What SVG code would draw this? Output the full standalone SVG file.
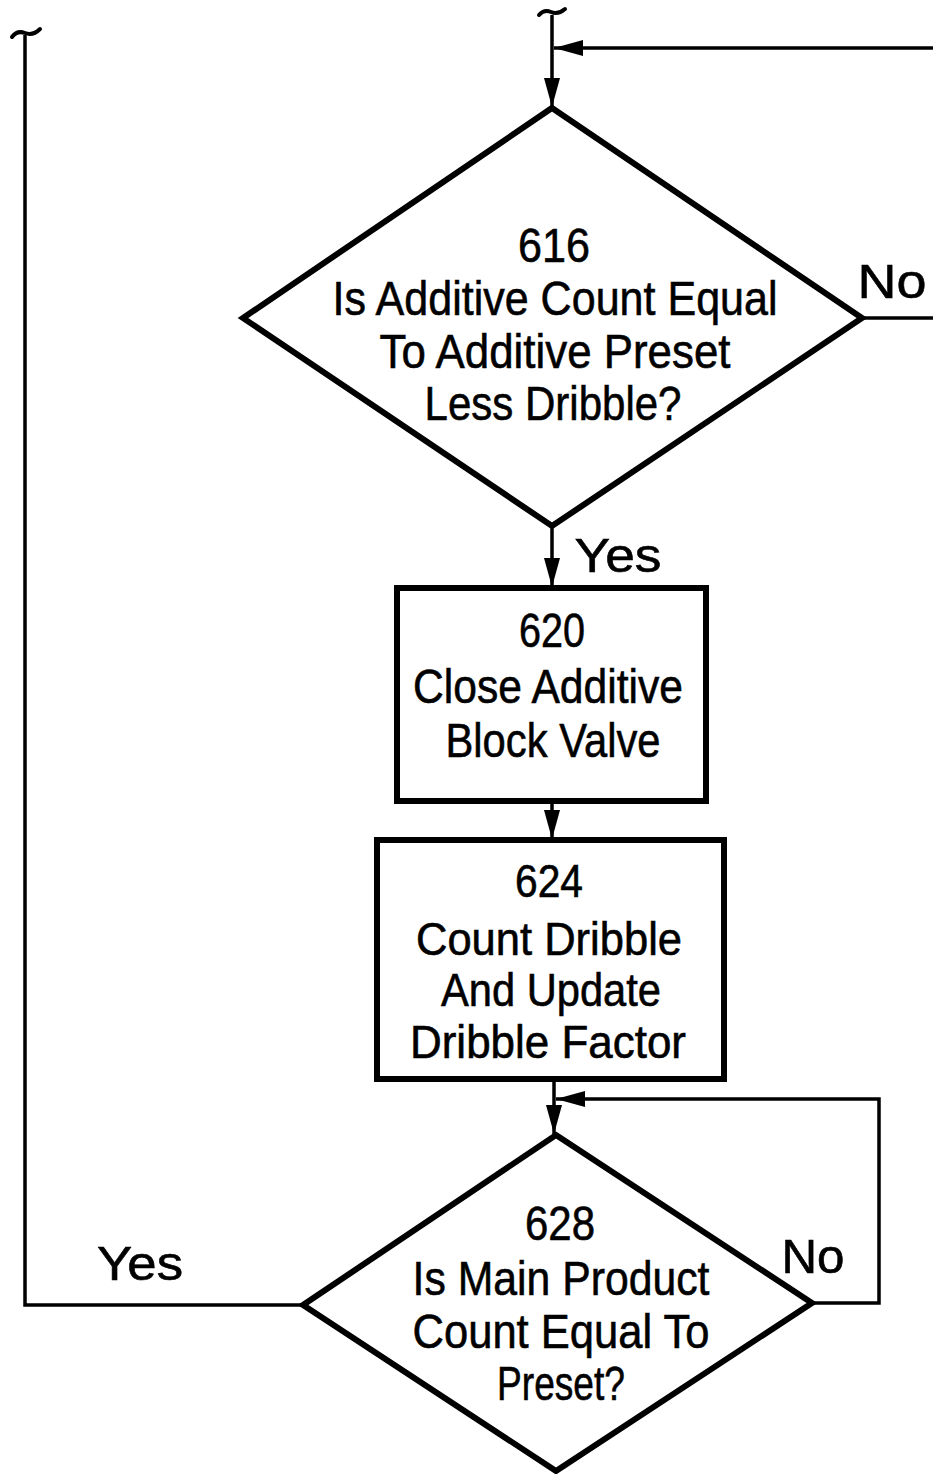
<svg xmlns="http://www.w3.org/2000/svg" width="933" height="1474" viewBox="0 0 933 1474">
<style>
  .shape{fill:#fff;stroke:#000;stroke-width:6;stroke-linejoin:miter}
  .conn{fill:none;stroke:#000;stroke-width:3.5}
  .brk{fill:none;stroke:#000;stroke-width:4;stroke-linecap:round}
  text{font-family:"Liberation Sans",Arial,sans-serif;font-size:49px;fill:#000;stroke:#000;stroke-width:0.6;text-anchor:middle}
  .sm{font-size:46px}
</style>
<defs>
  <marker id="ah" markerWidth="30" markerHeight="16" refX="29" refY="8" orient="auto" markerUnits="userSpaceOnUse">
    <path d="M0,0 L29,8 L0,16 Z" fill="#000"/>
  </marker>
</defs>
<rect width="933" height="1474" fill="#fff"/>
<g id="connectors">
  <path class="conn" d="M552,15 L552,107" marker-end="url(#ah)"/>
  <path class="conn" d="M933,48 L554,48" marker-end="url(#ah)"/>
  <path class="conn" d="M862,318 L933,318"/>
  <path class="conn" d="M552,526 L552,587" marker-end="url(#ah)"/>
  <path class="conn" d="M552,802 L552,839" marker-end="url(#ah)"/>
  <path class="conn" d="M554,1080 L554,1134" marker-end="url(#ah)"/>
  <path class="conn" d="M812,1303 L879,1303 L879,1099 L556,1099" marker-end="url(#ah)"/>
  <path class="conn" d="M303,1305 L25,1305 L25,35"/>
  <path class="brk" d="M539,15 Q544,9 551,12 Q558,15 565,9"/>
  <path class="brk" d="M12,37 Q17,30 25,33 Q33,36 40,29"/>
  <text x="618" y="572" textLength="87" lengthAdjust="spacingAndGlyphs">Yes</text>
  <text x="892" y="298" textLength="69" lengthAdjust="spacingAndGlyphs">No</text>
  <text x="813" y="1273" textLength="63" lengthAdjust="spacingAndGlyphs">No</text>
  <text x="140" y="1280" textLength="86" lengthAdjust="spacingAndGlyphs">Yes</text>
</g>
<g id="n616">
  <polygon class="shape" points="552,108 862,318 552,526 243,318"/>
  <text x="554" y="262" textLength="72" lengthAdjust="spacingAndGlyphs">616</text>
  <text x="555" y="315" textLength="445" lengthAdjust="spacingAndGlyphs">Is Additive Count Equal</text>
  <text x="555" y="368" textLength="351" lengthAdjust="spacingAndGlyphs">To Additive Preset</text>
  <text x="553" y="420" textLength="257" lengthAdjust="spacingAndGlyphs">Less Dribble?</text>
</g>
<g id="n620">
  <rect class="shape" x="397" y="588" width="309" height="213"/>
  <text x="552" y="647" textLength="66" lengthAdjust="spacingAndGlyphs">620</text>
  <text x="548" y="703" textLength="270" lengthAdjust="spacingAndGlyphs">Close Additive</text>
  <text x="553" y="757" textLength="215" lengthAdjust="spacingAndGlyphs">Block Valve</text>
</g>
<g id="n624">
  <rect class="shape" x="377" y="840" width="347" height="239"/>
  <text class="sm" x="549" y="897" textLength="68" lengthAdjust="spacingAndGlyphs">624</text>
  <text class="sm" x="549" y="955" textLength="266" lengthAdjust="spacingAndGlyphs">Count Dribble</text>
  <text class="sm" x="551" y="1006" textLength="220" lengthAdjust="spacingAndGlyphs">And Update</text>
  <text class="sm" x="548" y="1058" textLength="276" lengthAdjust="spacingAndGlyphs">Dribble Factor</text>
</g>
<g id="n628">
  <polygon class="shape" points="556,1135 812,1303 556,1471 303,1305"/>
  <text x="560" y="1240" textLength="70" lengthAdjust="spacingAndGlyphs">628</text>
  <text x="561" y="1295" textLength="297" lengthAdjust="spacingAndGlyphs">Is Main Product</text>
  <text x="561" y="1348" textLength="297" lengthAdjust="spacingAndGlyphs">Count Equal To</text>
  <text x="561" y="1400" textLength="128" lengthAdjust="spacingAndGlyphs">Preset?</text>
</g>
</svg>
